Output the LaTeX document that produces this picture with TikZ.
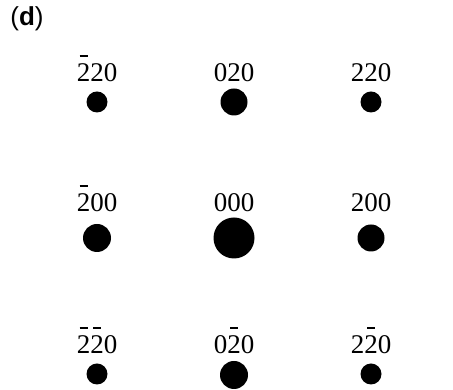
\documentclass[tikz,border=0pt]{standalone}
\usepackage{fontspec}
\setmainfont{Liberation Serif}
\setsansfont{Liberation Sans}
\usepackage{tikz}

% index with a bar over it
\newcommand{\nb}[1]{\makebox[0pt][l]{\hspace{0.11em}\rule[0.93em]{0.29em}{0.08em}}#1}

\begin{document}
\begin{tikzpicture}[x=1pt,y=1pt,
		spot/.style={circle,fill=black,inner sep=0pt,minimum size=#1},
		hkl/.style={anchor=base,inner sep=0pt,font=\fontsize{27}{32}\selectfont}]
	\useasboundingbox (0,0) rectangle (453,390);

	% panel label
	\node[font=\sffamily\fontsize{26}{30}\selectfont] (panel) at (27,371) {(\textbf{d})};

	% top row
	\node[spot=21pt] (s11) at (97,288) {};
	\node[spot=27pt] (s12) at (234,288) {};
	\node[spot=21pt] (s13) at (371,288) {};
	\node[hkl] (l11) at (97,308) {\nb{2}20};
	\node[hkl] (l12) at (234,308) {020};
	\node[hkl] (l13) at (371,308) {220};

	% middle row
	\node[spot=28pt] (s21) at (97,152) {};
	\node[spot=41pt] (s22) at (234,152) {};
	\node[spot=27pt] (s23) at (371,152) {};
	\node[hkl] (l21) at (97,178) {\nb{2}00};
	\node[hkl] (l22) at (234,178) {000};
	\node[hkl] (l23) at (371,178) {200};

	% bottom row
	\node[spot=21pt] (s31) at (97,16) {};
	\node[spot=28pt] (s32) at (234,15) {};
	\node[spot=21pt] (s33) at (371,16) {};
	\node[hkl] (l31) at (97,36) {\nb{2}\nb{2}0};
	\node[hkl] (l32) at (234,36) {0\nb{2}0};
	\node[hkl] (l33) at (371,36) {2\nb{2}0};
\end{tikzpicture}
\end{document}
